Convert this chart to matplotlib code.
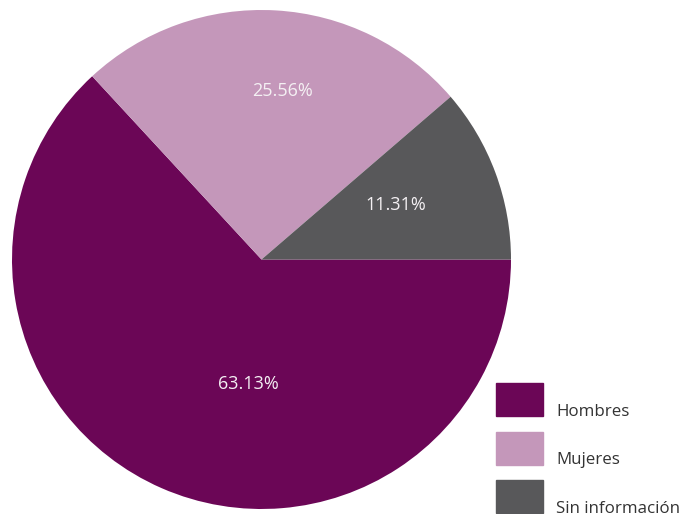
import matplotlib.pyplot as plt
from matplotlib.patches import Rectangle
import numpy as np

categorias = ["Hombres", "Mujeres", "Sin información"]
porcentajes = [63.13, 25.56, 11.31]
colores = ["#6b0656", "#c497ba", "#58585a"]

# label positions (radius, angle in deg)
pos_etiquetas = [(0.50, -96), (0.68, 83), (0.58, 22)]

plt.rcParams['font.family'] = ['Open Sans', 'DejaVu Sans']

fig = plt.figure(figsize=(6.96, 5.14), dpi=100)
ax = fig.add_axes([12 / 696, 5 / 514, 499 / 696, 499 / 514])

wedges, texts = ax.pie(porcentajes, colors=colores, startangle=0,
                       counterclock=False, radius=1,
                       wedgeprops=dict(linewidth=0))

for p, (r, ang) in zip(porcentajes, pos_etiquetas):
    a = np.deg2rad(ang)
    ax.text(r * np.cos(a), r * np.sin(a), f"{p:.2f}%", ha='center', va='center',
            color='#f4f0f3', fontsize=13)

ax.set_xlim(-1, 1)
ax.set_ylim(-1, 1)
ax.set_aspect('equal')
ax.axis('off')

# legend drawn by hand (text sits below patch centre)
for i, (cat, col) in enumerate(zip(categorias, colores)):
    top = 383 + i * 48.5
    fig.patches.append(Rectangle((496 / 696, 1 - (top + 33) / 514), 47 / 696, 33 / 514,
                                 transform=fig.transFigure, color=col))
    fig.text(556 / 696, 1 - (top + 29) / 514, cat, ha='left', va='center',
             fontsize=12.2, color='#333333')

fig.savefig("out.png", dpi=100)
